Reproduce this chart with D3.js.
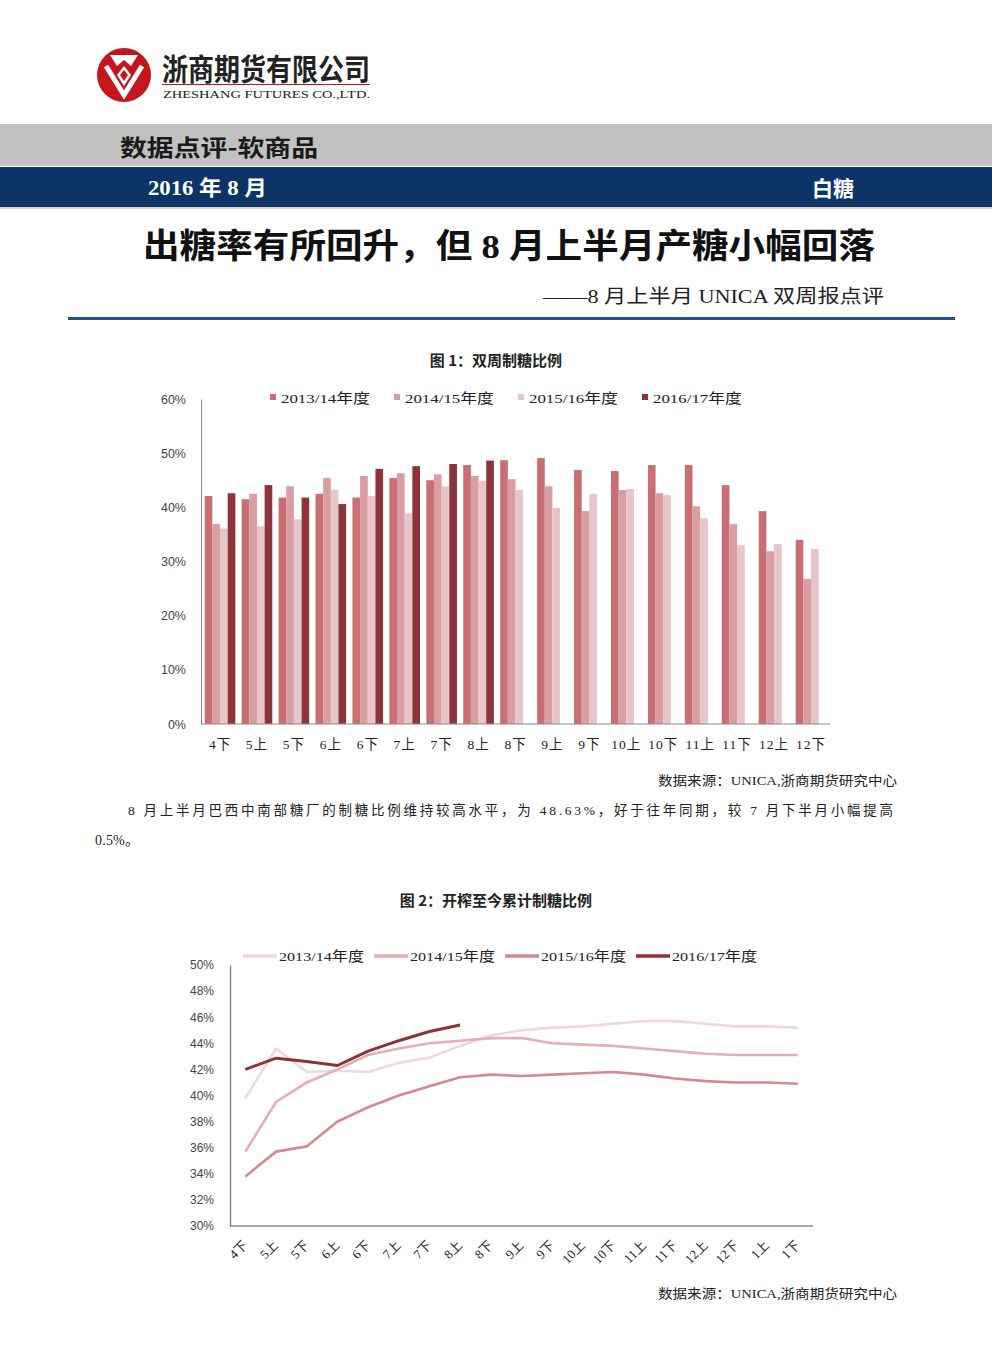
<!DOCTYPE html>
<html><head><meta charset="utf-8">
<script src="https://cdn.jsdelivr.net/npm/d3@7/dist/d3.min.js"></script>
<style>
body{margin:0;background:#fff;}
svg{display:block;}
.hd{font-family:"Noto Sans CJK SC",sans-serif;font-weight:700;}
</style></head>
<body>
<svg id="page" width="992" height="1346"></svg>
<script>
// ---------- data ----------
const barCategories = ["4下","5上","5下","6上","6下","7上","7下","8上","8下","9上","9下","10上","10下","11上","11下","12上","12下"];
const seriesNames = ["2013/14年度","2014/15年度","2015/16年度","2016/17年度"];
const bar1314 = [42.1,41.5,41.8,42.5,41.8,45.4,45.0,47.8,48.7,49.1,46.9,46.7,47.8,47.8,44.1,39.3,34.0];
const bar1415 = [36.9,42.5,43.9,45.4,45.8,46.3,46.1,45.8,45.2,43.9,39.3,43.2,42.6,40.2,36.9,31.9,26.8];
const bar1516 = [36.1,36.5,37.8,43.2,42.1,38.9,43.9,44.9,43.2,39.9,42.5,43.4,42.3,38.0,33.0,33.2,32.3];
const bar1617 = [42.6,44.1,41.8,40.6,47.1,47.6,48.0,48.63];
const barTicks = [0,10,20,30,40,50,60];

const lineCategories = ["4下","5上","5下","6上","6下","7上","7下","8上","8下","9上","9下","10上","10下","11上","11下","12上","12下","1上","1下"];
const line1314 = [39.8,43.6,41.8,41.9,41.8,42.5,42.9,43.8,44.6,45.0,45.2,45.3,45.5,45.7,45.7,45.5,45.3,45.3,45.2];
const line1415 = [35.7,39.5,41.0,42.0,43.1,43.6,44.0,44.2,44.4,44.4,44.0,43.9,43.8,43.6,43.4,43.2,43.1,43.1,43.1];
const line1516 = [33.8,35.7,36.1,38.0,39.1,40.0,40.7,41.4,41.6,41.5,41.6,41.7,41.8,41.6,41.3,41.1,41.0,41.0,40.9];
const line1617 = [42.0,42.86,42.6,42.3,43.4,44.2,44.9,45.4];
const lineTicks = [30,32,34,36,38,40,42,44,46,48,50];

const barColors = ["#C96F74","#D99EA3","#E8C5C8","#8B3439"];
const lineColors = ["#F0D8DA","#E3AFB3","#D38A8F","#8E3138"];

// ---------- page ----------
const svg = d3.select("#page");
svg.append("rect").attr("width",992).attr("height",1346).attr("fill","#fff");
const SERIF = "Liberation Serif,Noto Sans CJK SC,serif";

// logo
const logo = svg.append("g");
logo.append("circle").attr("cx",124).attr("cy",75).attr("r",27).attr("fill","#C5161D");
logo.append("path").attr("d","M110,55 L138,55 L131,66 L124,60 L117,66 Z").attr("fill","#fff");
logo.append("path").attr("d","M106,66 L124,95 L142,66").attr("fill","none").attr("stroke","#fff").attr("stroke-width",5).attr("stroke-linejoin","miter");
logo.append("path").attr("d","M124,66 L131,75 L124,86 L117,75 Z").attr("fill","#fff");
logo.append("path").attr("d","M124,70 L128,75 L124,81 L120,75 Z").attr("fill","#C5161D");
svg.append("text").attr("class","hd").attr("x",162).attr("y",80).attr("font-size",30)
  .attr("textLength",208).attr("lengthAdjust","spacingAndGlyphs").attr("fill","#222").text("浙商期货有限公司");
svg.append("rect").attr("x",162).attr("y",84).attr("width",208).attr("height",1).attr("fill","#C5161D");
svg.append("text").attr("x",163).attr("y",98).attr("font-size",11).attr("font-family","Liberation Serif,serif")
  .attr("textLength",207).attr("lengthAdjust","spacingAndGlyphs").attr("fill","#222").text("ZHESHANG FUTURES CO.,LTD.");

// banners
svg.append("rect").attr("x",0).attr("y",124).attr("width",992).attr("height",42).attr("fill","#C1C1C1");
svg.append("text").attr("class","hd").attr("x",120).attr("y",156).attr("font-size",23).attr("fill","#1a1a1a")
  .attr("textLength",198).attr("lengthAdjust","spacingAndGlyphs").text("数据点评-软商品");
svg.append("rect").attr("x",0).attr("y",167).attr("width",992).attr("height",40).attr("fill","#0C3467");
svg.append("rect").attr("x",0).attr("y",207).attr("width",992).attr("height",2).attr("fill","#D6D6D6");
svg.append("text").attr("x",148).attr("y",195).attr("font-size",21).attr("font-weight",700).attr("fill","#fff")
  .attr("font-family",SERIF).attr("textLength",119).attr("lengthAdjust","spacingAndGlyphs").text("2016 年 8 月");
svg.append("text").attr("class","hd").attr("x",812).attr("y",196).attr("font-size",21).attr("fill","#fff").text("白糖");

// titles
svg.append("text").attr("x",143).attr("y",258).attr("font-size",34).attr("font-weight",700).attr("fill","#111")
  .attr("font-family",SERIF)
  .attr("textLength",732).attr("lengthAdjust","spacingAndGlyphs").text("出糖率有所回升，但 8 月上半月产糖小幅回落");
svg.append("text").attr("x",543).attr("y",303).attr("font-size",19).attr("fill","#222")
  .attr("font-family",SERIF)
  .attr("textLength",341).attr("lengthAdjust","spacingAndGlyphs").text("——8 月上半月 UNICA 双周报点评");
svg.append("rect").attr("x",68).attr("y",317).attr("width",887).attr("height",3).attr("fill","#22508E");

// ---------- chart 1 ----------
svg.append("text").attr("class","hd").attr("x",496).attr("y",366).attr("font-size",15).attr("text-anchor","middle")
  .attr("fill","#222").text("图 1：双周制糖比例");

const x0 = d3.scaleBand().domain(barCategories).range([201,830]).paddingInner(0.17).paddingOuter(0.1);
const x1 = d3.scaleBand().domain(seriesNames).range([0,x0.bandwidth()]);
const y1 = d3.scaleLinear().domain([0,60]).range([724,399]);
const barSeries = [bar1314,bar1415,bar1516,bar1617];
const c1 = svg.append("g");
barSeries.forEach((vals,si)=>{
  c1.append("g").selectAll("rect").data(vals.map((v,i)=>({c:barCategories[i],v}))).join("rect")
    .attr("x",d=>x0(d.c)+x1(seriesNames[si]))
    .attr("y",d=>y1(d.v))
    .attr("width",x1.bandwidth())
    .attr("height",d=>y1(0)-y1(d.v))
    .attr("fill",barColors[si]);
});
const yAx1 = c1.append("g").attr("transform","translate(201,0)")
  .call(d3.axisLeft(y1).tickValues(barTicks).tickSize(0).tickPadding(15).tickFormat(d=>d+"%"));
yAx1.select(".domain").attr("stroke","#8a8a8a");
yAx1.selectAll("text").attr("font-family","Liberation Sans,sans-serif").attr("font-size",12.5).attr("fill","#444");
const xAx1 = c1.append("g").attr("transform","translate(0,724)")
  .call(d3.axisBottom(x0).tickSize(0).tickPadding(15));
xAx1.select(".domain").attr("stroke","#8a8a8a").attr("d","M201,0H830");
xAx1.selectAll("text").attr("font-family",SERIF).attr("font-size",13.5)
  .attr("fill","#222").attr("letter-spacing",1);

// legend 1
seriesNames.forEach((n,i)=>{
  const lx = 270 + i*124;
  c1.append("rect").attr("x",lx).attr("y",394).attr("width",6).attr("height",6).attr("fill",barColors[i]);
  c1.append("text").attr("x",lx+11).attr("y",403).attr("font-size",13.5).attr("fill","#222")
    .attr("font-family",SERIF)
    .attr("textLength",89).attr("lengthAdjust","spacingAndGlyphs").text(n);
});

// source + paragraph
const srcText = "数据来源：UNICA,浙商期货研究中心";
svg.append("text").attr("x",658).attr("y",785).attr("font-size",13).attr("fill","#222")
  .attr("font-family",SERIF)
  .attr("textLength",239).attr("lengthAdjust","spacingAndGlyphs").text(srcText);
svg.append("text").attr("x",128).attr("y",815).attr("font-size",13.5).attr("fill","#222")
  .attr("font-family",SERIF)
  .attr("textLength",765).attr("lengthAdjust","spacing")
  .text("8 月上半月巴西中南部糖厂的制糖比例维持较高水平，为 48.63%，好于往年同期，较 7 月下半月小幅提高");
svg.append("text").attr("x",95).attr("y",845).attr("font-size",14).attr("fill","#222")
  .attr("font-family",SERIF)
  .attr("textLength",44).attr("lengthAdjust","spacing").text("0.5%。");

// ---------- chart 2 ----------
svg.append("text").attr("class","hd").attr("x",496).attr("y",906).attr("font-size",15).attr("text-anchor","middle")
  .attr("fill","#222").text("图 2：开榨至今累计制糖比例");

const x2 = d3.scaleBand().domain(lineCategories).range([230,813]);
const y2 = d3.scaleLinear().domain([30,50]).range([1226,965]);
const c2 = svg.append("g");
const yAx2 = c2.append("g").attr("transform","translate(230,0)")
  .call(d3.axisLeft(y2).tickValues(lineTicks).tickSize(0).tickPadding(16).tickFormat(d=>d+"%"));
yAx2.select(".domain").attr("stroke","#8a8a8a").attr("stroke-width",1.5);
yAx2.selectAll("text").attr("font-family","Liberation Sans,sans-serif").attr("font-size",12).attr("fill","#444");
const xAx2 = c2.append("g").attr("transform","translate(0,1226)")
  .call(d3.axisBottom(x2).tickSize(0).tickPadding(0));
xAx2.select(".domain").attr("stroke","#8a8a8a").attr("stroke-width",1.5).attr("d","M230,0H813");
xAx2.selectAll("text")
  .attr("font-family",SERIF).attr("font-size",13).attr("fill","#222")
  .attr("text-anchor","end").attr("dy",0).attr("y",0)
  .attr("transform","translate(3,20) rotate(-45)");

const lineSeries = [line1314,line1415,line1516,line1617];
const lineGen = d3.line().x((d,i)=>x2(lineCategories[i])+x2.bandwidth()/2).y(d=>y2(d));
lineSeries.forEach((vals,si)=>{
  c2.append("path").datum(vals).attr("d",lineGen).attr("fill","none")
    .attr("stroke",lineColors[si]).attr("stroke-width",si===3?3:2.6).attr("stroke-linejoin","round");
});
seriesNames.forEach((n,i)=>{
  const lx = 243 + i*131;
  c2.append("line").attr("x1",lx).attr("x2",lx+34).attr("y1",956).attr("y2",956)
    .attr("stroke",lineColors[i]).attr("stroke-width",3.5);
  c2.append("text").attr("x",lx+36).attr("y",961).attr("font-size",13.5).attr("fill","#222")
    .attr("font-family",SERIF)
    .attr("textLength",85).attr("lengthAdjust","spacingAndGlyphs").text(n);
});
svg.append("text").attr("x",658).attr("y",1298).attr("font-size",13).attr("fill","#222")
  .attr("font-family",SERIF)
  .attr("textLength",239).attr("lengthAdjust","spacingAndGlyphs").text(srcText);
</script>
</body></html>
